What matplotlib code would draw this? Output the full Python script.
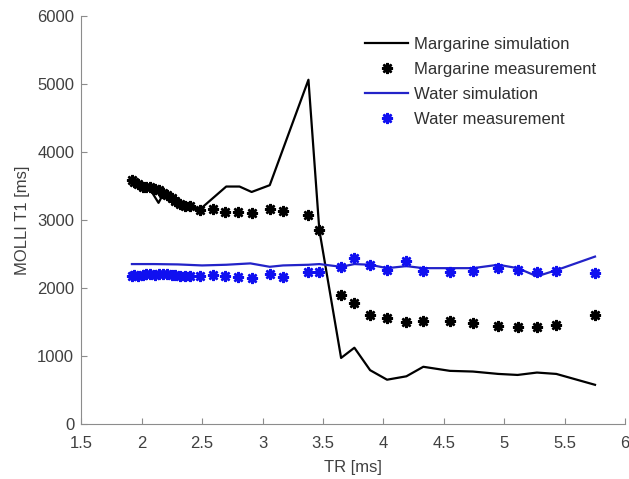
"""
MOLLI T1 vs TR: margarine and water phantoms, simulation vs measurement.
"""

import matplotlib
matplotlib.use('Agg')
import matplotlib.pyplot as plt

plt.rcParams['font.family'] = ['Liberation Sans', 'DejaVu Sans']
plt.rcParams['font.size'] = 12

# Measurement TR values (shared by both phantoms)
tr_meas = [1.92, 1.94, 1.97, 2.01, 2.04, 2.07, 2.11, 2.14, 2.18, 2.21, 2.25, 2.28,
           2.32, 2.36, 2.40, 2.48, 2.59, 2.69, 2.80, 2.91, 3.06, 3.17, 3.38, 3.47,
           3.65, 3.76, 3.89, 4.03, 4.19, 4.33, 4.55, 4.74, 4.95, 5.11, 5.27, 5.43, 5.75]
margarine_meas = [3590, 3560, 3520, 3490, 3480, 3490, 3450, 3440, 3400, 3370, 3320, 3270,
                  3230, 3200, 3200, 3150, 3160, 3120, 3120, 3100, 3160, 3130, 3070, 2850,
                  1900, 1775, 1600, 1555, 1505, 1520, 1520, 1480, 1440, 1420, 1420, 1455, 1600]
water_meas = [2170, 2190, 2180, 2190, 2200, 2200, 2190, 2210, 2200, 2200, 2190, 2190,
              2180, 2170, 2180, 2180, 2190, 2170, 2160, 2140, 2200, 2160, 2240, 2240,
              2310, 2440, 2340, 2260, 2390, 2250, 2240, 2250, 2290, 2260, 2240, 2250, 2225]

# Simulations
tr_marg_sim = [1.92, 2.00, 2.07, 2.14, 2.17, 2.25, 2.36, 2.48, 2.59, 2.70, 2.81, 2.91,
               3.06, 3.38, 3.47, 3.65, 3.76, 3.89, 4.03, 4.19, 4.33, 4.55, 4.74, 4.95,
               5.11, 5.27, 5.43, 5.75]
margarine_sim = [3580, 3500, 3450, 3250, 3350, 3280, 3200, 3150, 3320, 3490, 3490, 3410,
                 3510, 5060, 2850, 970, 1120, 790, 650, 700, 840, 780, 770, 735,
                 720, 755, 735, 575]
tr_water_sim = [1.92, 2.10, 2.30, 2.50, 2.70, 2.90, 3.06, 3.17, 3.38, 3.47, 3.65, 3.76,
                3.89, 4.03, 4.19, 4.33, 4.55, 4.74, 4.95, 5.11, 5.27, 5.43, 5.75]
water_sim = [2350, 2350, 2345, 2330, 2340, 2360, 2310, 2330, 2340, 2350, 2310, 2350,
             2340, 2290, 2320, 2290, 2290, 2290, 2340, 2290, 2170, 2260, 2460]

fig = plt.figure(figsize=(6.29, 4.79), dpi=100)
ax = fig.add_axes([0.129, 0.115, 0.865, 0.852])

asterisk = (8, 2, 0)
ax.plot(tr_marg_sim, margarine_sim, color='black', lw=1.6, label='Margarine simulation')
ax.plot(tr_meas, margarine_meas, ls='none', marker=asterisk, ms=8, mew=1.8,
        color='black', label='Margarine measurement')
ax.plot(tr_water_sim, water_sim, color='#2323c8', lw=1.6, label='Water simulation')
ax.plot(tr_meas, water_meas, ls='none', marker=asterisk, ms=8, mew=1.8,
        color='#1010f0', label='Water measurement')

ax.set_xlim(1.5, 6)
ax.set_ylim(0, 6000)
ax.set_xticks([1.5, 2, 2.5, 3, 3.5, 4, 4.5, 5, 5.5, 6])
ax.set_xticklabels(['1.5', '2', '2.5', '3', '3.5', '4', '4.5', '5', '5.5', '6'])
ax.set_yticks(range(0, 6001, 1000))

for side in ['top', 'right']:
    ax.spines[side].set_visible(False)
for side in ['left', 'bottom']:
    ax.spines[side].set_color('#8c8c8c')
ax.tick_params(direction='in', length=4, color='#8c8c8c', labelcolor='#404040',
               labelsize=12)
ax.tick_params(axis='x', pad=9)
ax.tick_params(axis='y', pad=5)

ax.set_xlabel('TR [ms]', color='#404040', fontsize=12, labelpad=6)
ax.set_ylabel('MOLLI T1 [ms]', color='#404040', fontsize=12, labelpad=5)

ax.legend(loc='upper left', bbox_to_anchor=(365 / 629, 1 - 37 / 479),
          bbox_transform=fig.transFigure, frameon=False, borderpad=0,
          borderaxespad=0, handlelength=2.6, handletextpad=0.35,
          labelspacing=0.6, fontsize=12, labelcolor='#303030')

fig.savefig('out.png', dpi=100, facecolor='white')
plt.close(fig)
